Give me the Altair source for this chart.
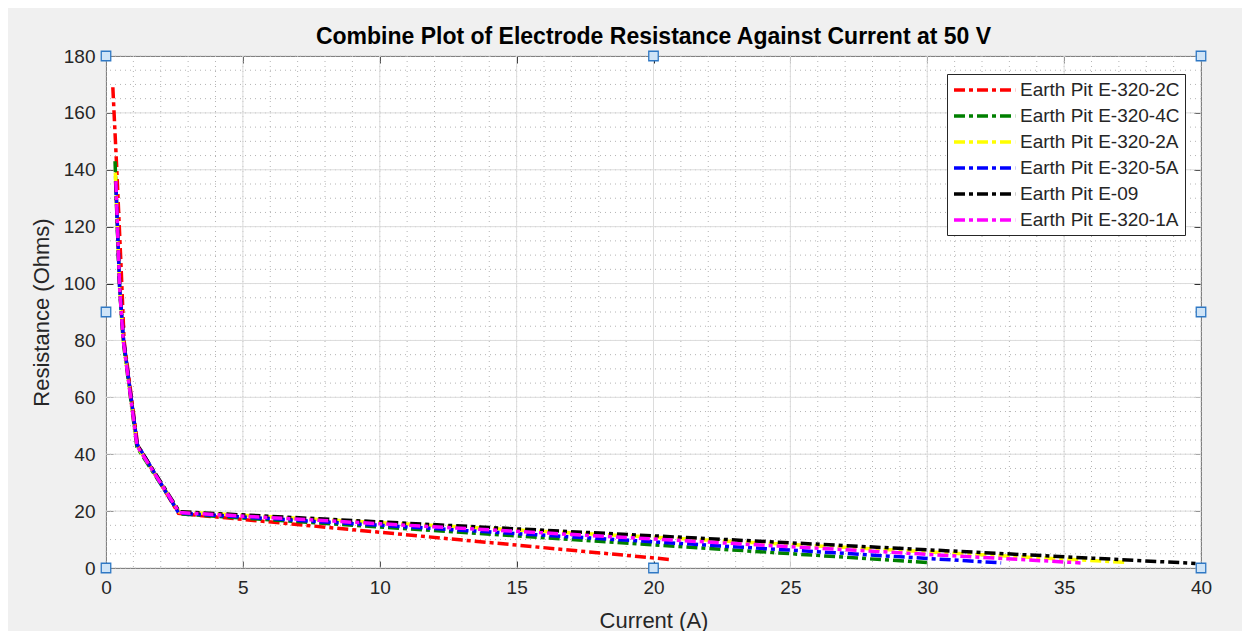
import altair as alt
import pandas as pd

# ---- series data ----
series_names = [
    "Earth Pit E-320-2C",
    "Earth Pit E-320-4C",
    "Earth Pit E-320-2A",
    "Earth Pit E-320-5A",
    "Earth Pit E-09",
    "Earth Pit E-320-1A",
]
series_colors = ["#ff0000", "#008000", "#ffff00", "#0000ff", "#000000", "#ff00ff"]

cur_2C = [0.25, 0.38, 0.55, 0.66, 1.16, 2.65, 20.7]
res_2C = [169.0, 143.0, 106.0, 80.0, 43.0, 19.2, 2.9]

cur_4C = [0.33, 0.50, 0.63, 1.13, 2.70, 30.0]
res_4C = [143.0, 98.0, 79.5, 42.5, 19.0, 1.9]

cur_2A = [0.34, 0.50, 0.63, 1.13, 2.68, 37.2]
res_2A = [139.0, 98.5, 80.0, 43.0, 19.7, 2.0]

cur_5A = [0.36, 0.50, 0.64, 1.14, 2.66, 32.7]
res_5A = [135.0, 98.5, 80.5, 43.5, 19.3, 1.8]

cur_E09 = [0.35, 0.50, 0.63, 1.13, 2.68, 39.8]
res_E09 = [136.0, 98.5, 80.5, 43.5, 19.8, 1.6]

cur_1A = [0.36, 0.50, 0.63, 1.13, 2.68, 35.6]
res_1A = [136.0, 98.0, 80.0, 43.0, 19.5, 1.8]

all_cur = [cur_2C, cur_4C, cur_2A, cur_5A, cur_E09, cur_1A]
all_res = [res_2C, res_4C, res_2A, res_5A, res_E09, res_1A]

# ---- axis ticks / grid ----
x_major = [0, 5, 10, 15, 20, 25, 30, 35, 40]
y_major = [0, 20, 40, 60, 80, 100, 120, 140, 160, 180]
x_minor = list(range(0, 41, 1))
y_minor = list(range(0, 181, 5))

# editing handles drawn on the axes box
handle_x = [0, 0, 0, 20, 40, 40, 40, 20]
handle_y = [0, 90, 180, 180, 180, 90, 0, 0]

rows = []
for name, xs, ys in zip(series_names, all_cur, all_res):
    for i, (a, b) in enumerate(zip(xs, ys)):
        rows.append({"series": name, "I": a, "R": b, "k": i})
df = pd.DataFrame(rows)

xscale = alt.Scale(domain=[0, 40], nice=False, zero=False)
yscale = alt.Scale(domain=[0, 180], nice=False, zero=False)

FONT = "Liberation Sans"
TXT = "#262626"

minor_x = alt.Chart(pd.DataFrame({"v": x_minor})).mark_rule(
    color="#b4b4b4", strokeDash=[1, 4], strokeWidth=1
).encode(x=alt.X("v:Q", scale=xscale, axis=None))
minor_y = alt.Chart(pd.DataFrame({"v": y_minor})).mark_rule(
    color="#b4b4b4", strokeDash=[1, 4], strokeWidth=1
).encode(y=alt.Y("v:Q", scale=yscale, axis=None))
major_x = alt.Chart(pd.DataFrame({"v": x_major})).mark_rule(
    color="#dcdcdc", strokeWidth=1
).encode(x=alt.X("v:Q", scale=xscale, axis=None))
major_y = alt.Chart(pd.DataFrame({"v": y_major})).mark_rule(
    color="#dcdcdc", strokeWidth=1
).encode(y=alt.Y("v:Q", scale=yscale, axis=None))

lines = alt.Chart(df).mark_line(
    strokeWidth=3.5, strokeDash=[11, 4, 4, 4]
).encode(
    x=alt.X(
        "I:Q",
        scale=xscale,
        axis=alt.Axis(
            orient="bottom", values=x_major, grid=False, domain=False,
            ticks=True, tickSize=7, tickColor=TXT, offset=-7,
            labelPadding=10, labelFontSize=19, labelFont=FONT, labelColor=TXT,
            labelFlush=False,
            title="Current (A)", titleFontSize=22, titleFont=FONT,
            titleFontWeight="normal", titleColor=TXT, titlePadding=13,
        ),
    ),
    y=alt.Y(
        "R:Q",
        scale=yscale,
        axis=alt.Axis(
            orient="left", values=y_major, grid=False, domain=False,
            ticks=True, tickSize=7, tickColor=TXT, offset=-7,
            labelPadding=11, labelFontSize=19, labelFont=FONT, labelColor=TXT,
            labelFlush=False,
            title="Resistance (Ohms)", titleFontSize=22, titleFont=FONT,
            titleFontWeight="normal", titleColor=TXT, titlePadding=10,
        ),
    ),
    color=alt.Color(
        "series:N",
        scale=alt.Scale(domain=series_names, range=series_colors),
        legend=alt.Legend(
            title=None, orient="none", legendX=841, legendY=18,
            direction="vertical", fillColor="white", strokeColor=TXT,
            padding=5, symbolType="M-1,0H5.8", symbolSize=324,
            symbolStrokeWidth=3.5, symbolDash=[11, 4, 4, 4],
            labelFontSize=19, labelFont=FONT, labelColor=TXT,
            labelOffset=46, rowPadding=5, labelLimit=400,
        ),
    ),
    order=alt.Order("k:Q"),
)

handles = alt.Chart(pd.DataFrame({"hx": handle_x, "hy": handle_y})).mark_square(
    size=90, filled=True, fill="#cfe4f7", stroke="#2f78c4", strokeWidth=1.3, opacity=1
).encode(
    x=alt.X(
        "hx:Q", scale=xscale,
        axis=alt.Axis(orient="top", values=x_major, labels=False, grid=False,
                      domain=False, tickSize=7, tickColor=TXT, offset=-7, title=None),
    ),
    y=alt.Y(
        "hy:Q", scale=yscale,
        axis=alt.Axis(orient="right", values=y_major, labels=False, grid=False,
                      domain=False, tickSize=7, tickColor=TXT, offset=-7, title=None),
    ),
)

chart = alt.layer(minor_x, minor_y, major_x, major_y, lines, handles).resolve_axis(
    x="independent", y="independent"
).properties(
    width=1095,
    height=512,
    padding={"left": 98, "top": 48, "right": 41, "bottom": 63},
    autosize=alt.AutoSizeParams(type="none"),
    title=alt.Title(
        "Combine Plot of Electrode Resistance Against Current at 50 V",
        fontSize=23, fontWeight="bold", font=FONT, color="#000000",
        offset=-2, anchor="middle",
    ),
).configure(background="#f0f0f0").configure_view(
    fill="white", stroke=TXT, strokeWidth=1
)

chart.save("out.html", embed_options={"renderer": "svg", "actions": False})
